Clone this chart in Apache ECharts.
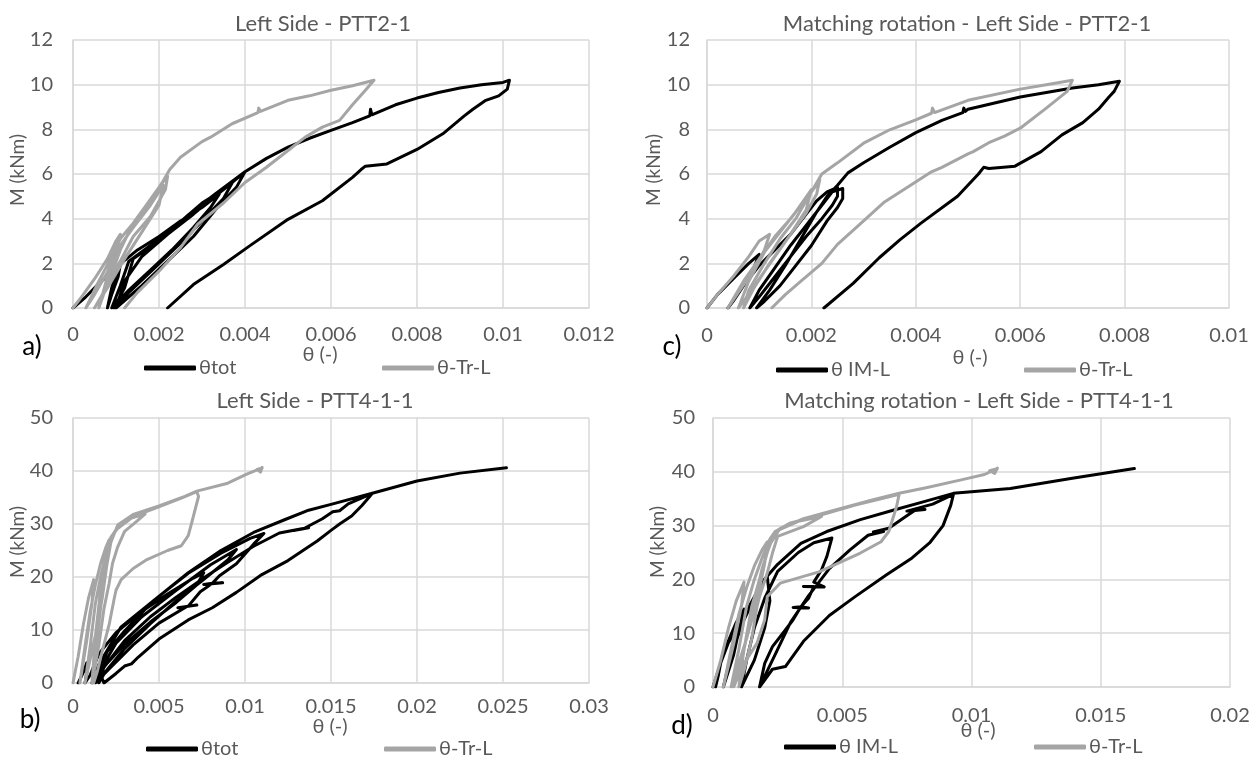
<!DOCTYPE html>
<html><head><meta charset="utf-8">
<script src="https://cdn.jsdelivr.net/npm/echarts@6/dist/echarts.min.js"></script>
<style>html,body{margin:0;padding:0;background:#fff}#c{width:1260px;height:758px}</style>
</head><body><div id="c"></div>
<script>
// ---------- tick labels ----------
const xTicksA = [0, 0.002, 0.004, 0.006, 0.008, 0.01, 0.012];
const xTicksC = [0, 0.002, 0.004, 0.006, 0.008, 0.01];
const xTicksB = [0, 0.005, 0.01, 0.015, 0.02, 0.025, 0.03];
const xTicksD = [0, 0.005, 0.01, 0.015, 0.02];
const yTicksTop = [0, 2, 4, 6, 8, 10, 12];
const yTicksBottom = [0, 10, 20, 30, 40, 50];

const titles = ['Left Side - PTT2-1', 'Matching rotation - Left Side - PTT2-1', 'Left Side - PTT4-1-1', 'Matching rotation - Left Side - PTT4-1-1'];
const panelLetters = ['a)', 'c)', 'b)', 'd)'];
const xName = 'θ (-)';
const yName = 'M (kNm)';

// ---------- series values [θ, M] ----------
// a) Left Side - PTT2-1
const thetaTotA = [
[0,0],[0.0003,0.5],[0.0006,1.1],[0.0009,1.6],[0.0011,1.95],[0.00105,1.4],[0.0009,0.6],[0.0008,0],
[0.0009,0.9],[0.00105,1.9],[0.0015,2.6],[0.002,3.2],[0.0025,3.9],[0.003,4.5],[0.0034,5.1],
[0.0032,4.5],[0.0028,3.6],[0.0023,2.6],[0.0018,1.7],[0.0013,0.8],[0.0009,0],
[0.0011,1.0],[0.0013,2.1],[0.0018,2.8],[0.0024,3.7],[0.003,4.7],[0.0035,5.3],[0.004,6.1],
[0.0038,5.4],[0.0034,4.6],[0.0028,3.2],[0.0022,2.1],[0.0016,1.0],[0.001,0],
[0.0012,1.2],[0.0016,2.3],[0.0022,3.3],[0.0028,4.2],[0.0033,5.0],[0.0037,5.6],
[0.0035,4.9],[0.003,3.9],[0.0025,2.9],[0.0019,1.8],[0.0013,0.7],[0.00095,0],
[0.0012,0.9],[0.0014,2.2],[0.002,3.0],[0.0027,4.2],[0.0033,5.1],[0.004,6.1],[0.0045,6.7],[0.005,7.2],[0.0055,7.6],[0.006,7.95],[0.0065,8.3],[0.0069,8.6],[0.00692,8.9],[0.00695,8.65],[0.0075,9.1],[0.008,9.4],[0.0085,9.65],[0.009,9.85],[0.0095,10.0],[0.01,10.1],[0.01015,10.2],
[0.0101,9.8],[0.0099,9.5],[0.0096,9.3],[0.0093,8.9],[0.0091,8.6],[0.0086,7.8],[0.008,7.1],[0.0073,6.45],[0.0068,6.35],[0.0067,6.2],[0.0065,5.85],[0.0058,4.8],[0.005,3.97],[0.0041,2.77],[0.0035,1.95],[0.0028,1.05],[0.0022,0]
];
const thetaTrA = [
[0,0],[0.0002,0.5],[0.0005,1.3],[0.0008,2.2],[0.001,3.0],[0.0011,3.3],[0.001,2.6],[0.0008,1.6],[0.0005,0.6],[0.0003,0],
[0.0006,1.2],[0.0009,2.3],[0.0011,3.1],[0.0014,3.8],[0.0017,4.6],[0.002,5.4],[0.0022,5.9],
[0.00215,5.3],[0.0018,4.1],[0.0014,3.2],[0.0011,2.1],[0.0008,1.1],[0.0006,0],
[0.0008,1.4],[0.0011,2.8],[0.0014,3.6],[0.0018,4.6],[0.0021,5.5],[0.002,4.6],[0.0016,3.4],[0.0012,2.2],[0.0008,0.9],[0.0005,0],
[0.0008,1.0],[0.0011,2.6],[0.0013,3.4],[0.0016,4.2],[0.0019,5.1],[0.0021,5.7],[0.00225,6.2],[0.0025,6.75],[0.003,7.45],[0.0032,7.65],[0.0037,8.25],[0.0043,8.75],[0.00432,8.95],[0.00436,8.8],[0.005,9.3],[0.0055,9.5],[0.006,9.75],[0.0065,9.95],[0.007,10.2],
[0.0068,9.75],[0.0065,9.1],[0.0062,8.4],[0.0058,8.1],[0.0054,7.65],[0.005,7.05],[0.0045,6.3],[0.004,5.62],[0.0035,4.7],[0.0029,3.75],[0.0025,2.7],[0.002,1.65],[0.0015,0.7],[0.0012,0]
];
// c) Matching rotation - PTT2-1
const thetaImC = [
[0,0],[0.0002,0.6],[0.0005,1.3],[0.0008,2.0],[0.001,2.4],[0.0009,1.8],[0.0007,1.0],[0.0005,0.3],[0.0004,0],
[0.0007,1.0],[0.001,1.9],[0.0013,2.6],[0.0016,3.3],[0.0019,4.2],[0.0021,4.8],[0.0023,5.2],[0.0025,5.4],
[0.0025,5.0],[0.0024,4.6],[0.0022,4.0],[0.0019,3.2],[0.0016,2.3],[0.0013,1.4],[0.001,0.5],[0.00082,0],
[0.001,0.8],[0.0013,1.8],[0.0016,2.8],[0.0019,3.7],[0.0022,4.6],[0.0024,5.2],[0.0026,5.35],
[0.0026,4.9],[0.0025,4.5],[0.0023,3.9],[0.002,2.8],[0.0017,1.9],[0.0014,1.0],[0.0011,0.3],[0.00095,0],
[0.0012,0.8],[0.0015,1.9],[0.0018,3.1],[0.0021,4.3],[0.0023,5.0],[0.0025,5.5],[0.0027,6.05],[0.003,6.5],[0.0035,7.2],[0.004,7.85],[0.0045,8.4],[0.0049,8.75],[0.00492,8.95],[0.00495,8.8],[0.005,8.9],[0.006,9.45],[0.007,9.85],[0.0075,10.0],[0.0079,10.15],
[0.0078,9.7],[0.0077,9.45],[0.0075,8.9],[0.0072,8.3],[0.0068,7.75],[0.0064,7.0],[0.0059,6.35],[0.0054,6.25],[0.0053,6.3],[0.0052,6.0],[0.0048,5.0],[0.0041,3.8],[0.0037,3.06],[0.0033,2.25],[0.0028,1.1],[0.00224,0]
];
const thetaTrC = [
[0,0],[0.0002,0.6],[0.0005,1.4],[0.0008,2.3],[0.001,3.0],[0.0012,3.3],[0.0011,2.6],[0.0009,1.7],[0.0006,0.7],[0.0004,0],
[0.0007,1.2],[0.001,2.2],[0.0013,3.2],[0.0016,4.0],[0.0019,4.9],[0.0021,5.5],[0.00216,5.75],
[0.0021,5.1],[0.0019,4.25],[0.0016,3.3],[0.0013,2.3],[0.001,1.3],[0.0007,0.3],[0.0006,0],
[0.0008,1.2],[0.0011,2.5],[0.0014,3.4],[0.0017,4.3],[0.002,5.3],[0.0019,4.4],[0.0016,3.3],[0.0012,2.0],[0.0009,0.9],[0.0007,0],
[0.0008,0.8],[0.0011,2.0],[0.0014,3.1],[0.0017,4.0],[0.002,5.2],[0.0022,6.0],[0.0025,6.5],[0.003,7.38],[0.0035,7.98],[0.004,8.42],[0.0043,8.72],[0.00432,8.95],[0.00436,8.75],[0.005,9.3],[0.006,9.8],[0.0065,10.0],[0.007,10.2],
[0.0069,9.7],[0.0065,8.95],[0.006,8.05],[0.0057,7.7],[0.0054,7.4],[0.0051,7.0],[0.005,6.9],[0.0045,6.3],[0.0043,6.1],[0.0039,5.5],[0.0034,4.75],[0.003,3.9],[0.0025,2.85],[0.0022,2.0],[0.0018,1.2],[0.0015,0.6],[0.00124,0]
];
// b) Left Side - PTT4-1-1
const thetaTotB = [
[0.0003,0],[0.0006,2],[0.0008,3.8],[0.0008,2],[0.0007,0],
[0.001,1.5],[0.0015,5.5],[0.0025,9.5],[0.004,13.5],[0.0055,16.8],[0.007,19.8],[0.0076,20.8],
[0.0072,18.5],[0.006,15.2],[0.0045,11.5],[0.003,7.3],[0.002,3.8],[0.0011,0],
[0.0015,3.5],[0.0028,10.6],[0.0047,15.6],[0.0067,20.7],[0.0086,24.5],[0.0103,27.3],[0.0111,28.2],
[0.0105,26.2],[0.0095,22.5],[0.0085,20.2],[0.0081,18.8],[0.0087,18.9],[0.0076,18.6],[0.0081,18.8],[0.0074,17.2],[0.0067,14.5],[0.0072,14.7],[0.0061,14.2],[0.0066,14.4],[0.005,11.3],[0.0035,7.2],[0.0022,3],[0.0013,0],
[0.0016,2.5],[0.0025,7.5],[0.004,12.5],[0.006,17.5],[0.008,22.3],[0.0095,25.2],
[0.009,23.2],[0.0075,19.3],[0.006,15.5],[0.0045,11.2],[0.003,6.5],[0.0019,2.2],[0.0015,0],
[0.0018,3],[0.003,8],[0.0045,12.5],[0.006,16.2],[0.0075,19.6],[0.009,22.8],[0.0105,25.8],[0.012,28.3],[0.0133,29.1],[0.0137,29.3],[0.0129,28.8],[0.0134,29.1],[0.0145,31],[0.0151,32.3],[0.0155,32.5],[0.016,33.8],[0.0174,35.8],
[0.0172,35],[0.0168,33.5],[0.0162,31.5],[0.0155,30],[0.015,28.8],[0.0142,26.8],[0.0135,25.3],[0.0125,23.1],[0.0109,20.3],[0.0095,17.1],[0.0081,14.2],[0.0067,11.9],[0.005,8.3],[0.0038,4.9],[0.0034,3.6],[0.003,3.2],[0.0025,1.8],[0.0018,0],
[0.0015,2.5],[0.002,6],[0.003,9.8],[0.0047,15.6],[0.0067,20.8],[0.0086,25],[0.0105,28.4],[0.0123,30.8],[0.0137,32.6],[0.015,33.7],[0.0174,35.8],[0.02,38.1],[0.0225,39.6],[0.0252,40.6]
];
const thetaTrB = [
[0,0],[0.0003,5],[0.0006,11],[0.0009,16],[0.0012,19.5],[0.0011,15],[0.0008,8],[0.0005,2],[0.0004,0],
[0.0007,7],[0.001,13.5],[0.0013,18.5],[0.0016,22.5],[0.0019,25.5],[0.0021,27],[0.002,23],[0.0017,16],[0.0013,9],[0.0009,3],[0.0007,0],
[0.001,7],[0.0013,15],[0.0016,20],[0.0019,24],[0.0022,27.5],[0.0025,28.9],[0.0034,31.1],[0.0042,31.9],
[0.0037,30.5],[0.003,28.6],[0.0026,25.7],[0.0023,22.6],[0.0021,18.8],[0.0018,14],[0.0015,7],[0.0011,0],
[0.0013,8.7],[0.0016,17.5],[0.0019,23.2],[0.0023,27.9],[0.0027,29.6],[0.0034,31.3],[0.0048,33],[0.0063,34.9],[0.0072,36.1],
[0.0073,35.2],[0.0071,32.7],[0.0069,30.2],[0.0067,27.8],[0.0063,25.9],[0.0055,25],[0.0043,23.3],[0.0035,21.6],[0.0028,19.5],[0.0025,17.5],[0.0024,16],[0.0021,11],[0.0017,6],[0.0014,2],[0.0012,0],
[0.0013,6],[0.0016,14],[0.0019,21],[0.0022,26.5],[0.0026,29.8],[0.0035,31.8],[0.005,33.4],[0.0065,35.2],[0.0072,36.2],[0.009,37.7],[0.0101,39.4],[0.011,40.6],[0.0107,40.3],[0.0109,39.8],[0.011,40.7]
];
// d) Matching rotation - PTT4-1-1
const thetaImD = [
[0,0],[0.0002,3],[0.0005,7.5],[0.0009,12],[0.0012,14.5],[0.001,10.5],[0.0008,6],[0.0005,1.5],[0.0004,0],
[0.0006,4],[0.001,10],[0.0014,15],[0.0018,18.5],[0.0021,20.5],[0.0022,16],[0.002,11],[0.0016,5],[0.0011,0],
[0.0013,5],[0.0016,11],[0.002,16.5],[0.0025,21.5],[0.0033,25],[0.0039,26.8],[0.0046,27.7],
[0.0044,24.2],[0.0042,21.8],[0.0039,19.5],[0.0043,18.6],[0.0035,18.7],[0.0039,18.7],[0.0037,16.5],[0.0034,14.9],[0.0037,14.7],[0.0031,14.8],[0.0034,14.9],[0.0031,12.5],[0.0028,10.6],[0.0023,7.5],[0.002,4.4],[0.0018,0],
[0.0021,3],[0.0025,7],[0.003,12],[0.0037,17],[0.0045,22],[0.0053,25.5],[0.006,28.2],[0.0066,28.9],[0.0062,28.8],[0.0068,29.5],[0.0074,31.5],[0.0078,32.8],[0.0082,33],[0.0075,32.7],[0.0085,34],[0.0093,35.8],
[0.0092,33.8],[0.0089,30],[0.0084,26.9],[0.0077,24],[0.0067,20.8],[0.0055,16.8],[0.0045,13.3],[0.0035,8.5],[0.0028,3.8],[0.0023,3.3],[0.0018,0],
'-',
[0.0001,0],[0.0002,2],[0.0003,4.5],[0.0006,8.3],[0.0012,12.5],[0.0015,15.5],[0.0019,19.5],[0.0025,22.8],[0.0034,26.7],[0.0044,28.9],[0.0057,31.1],[0.007,32.9],[0.0082,34.5],[0.0093,36],[0.0115,36.9],[0.0139,38.8],[0.0163,40.6]
];
const thetaTrD = [
[0,0],[0.0003,5],[0.0006,11],[0.0009,16],[0.0012,19.5],[0.0011,15],[0.0008,8],[0.0005,2],[0.0004,0],
[0.0007,7],[0.001,13.5],[0.0013,18.5],[0.0016,22.5],[0.0019,25.5],[0.0021,27],[0.002,23],[0.0017,16],[0.0013,9],[0.0009,3],[0.0007,0],
[0.001,7],[0.0013,15],[0.0016,20],[0.0019,24],[0.0022,27.5],[0.0024,28.9],[0.0033,30.8],[0.0042,31.7],
[0.0035,29.8],[0.0025,28],[0.0023,24.9],[0.0021,21.2],[0.0018,16.8],[0.0017,14.9],[0.0015,9],[0.0012,3],[0.001,0],
[0.0012,7],[0.0015,15],[0.0018,20],[0.0021,25],[0.0024,28.9],[0.003,30.5],[0.0042,32],[0.0055,33.8],[0.0065,35],[0.0072,35.8],
[0.0071,33.5],[0.0068,28.9],[0.0065,27],[0.0057,24.9],[0.0047,22.7],[0.0041,21.4],[0.0026,19.3],[0.0021,16.8],[0.002,12.5],[0.0017,8.1],[0.0012,4.4],[0.0008,0],
[0.0012,7],[0.0016,16],[0.0019,22],[0.0022,26.5],[0.0026,29.5],[0.0035,31.3],[0.0048,33],[0.0062,34.8],[0.0072,36],[0.0082,37],[0.0096,38.5],[0.0105,39.5],[0.011,40.6],[0.0107,40.2],[0.0109,39.7],[0.011,40.7]
];

// ---------- styling / layout ----------
const FONT = "Lato, 'Open Sans', 'DejaVu Sans', sans-serif";
const TXT = '#595959';
const GRID = '#D9D9D9';
const BLACK = '#000000';
const GREY = '#A5A5A5';

const panels = [
  {grid:{left:73, top:40, width:516, height:268}, xt:xTicksA, yt:yTicksTop, xm:17, ym:20,
   title:{x:323, y:13}, letter:[32,347], xn:[320,355], yn:[18,170],
   s:[{name:'θtot', data:thetaTotA, c:BLACK},{name:'θ-Tr-L', data:thetaTrA, c:GREY}], lg:[[144,368],[382,368]]},
  {grid:{left:707, top:40, width:522, height:268}, xt:xTicksC, yt:yTicksTop, xm:18, ym:17,
   title:{x:967, y:13}, letter:[672,347], xn:[970,358], yn:[654,170],
   s:[{name:'θ IM-L', data:thetaImC, c:BLACK},{name:'θ-Tr-L', data:thetaTrC, c:GREY}], lg:[[776,370],[1024,370]]},
  {grid:{left:73, top:418, width:516, height:265}, xt:xTicksB, yt:yTicksBottom, xm:14, ym:20,
   title:{x:315, y:390}, letter:[30,720], xn:[330,727], yn:[18,542],
   s:[{name:'θtot', data:thetaTotB, c:BLACK},{name:'θ-Tr-L', data:thetaTrB, c:GREY}], lg:[[146,749],[384,749]]},
  {grid:{left:713, top:418, width:517, height:269}, xt:xTicksD, yt:yTicksBottom, xm:19, ym:18,
   title:{x:979, y:390}, letter:[682,726], xn:[978,731], yn:[658,542],
   s:[{name:'θ IM-L', data:thetaImD, c:BLACK},{name:'θ-Tr-L', data:thetaTrD, c:GREY}], lg:[[784,747],[1034,747]]}
];

const fmt = v => String(parseFloat(Number(v).toPrecision(6)));

const option = {
  animation: false,
  backgroundColor: '#ffffff',
  title: [], grid: [], xAxis: [], yAxis: [], series: [], legend: [], graphic: []
};

panels.forEach((p, i) => {
  option.grid.push(Object.assign({containLabel:false}, p.grid));
  option.title.push({text: titles[i], left: p.title.x, top: p.title.y, textAlign: 'center', padding: 0,
    textStyle:{color: TXT, fontFamily: FONT, fontSize: 22, fontWeight: 'normal'}});
  option.xAxis.push({gridIndex:i, type:'value', min:p.xt[0], max:p.xt[p.xt.length-1], interval:p.xt[1]-p.xt[0],
    axisLine:{show:true, onZero:false, lineStyle:{color:GRID, width:1.5}}, axisTick:{show:false},
    splitLine:{show:true, lineStyle:{color:GRID, width:1.5}},
    axisLabel:{color:TXT, fontFamily:FONT, fontSize:20, margin:p.xm, formatter:fmt}});
  option.yAxis.push({gridIndex:i, type:'value', min:p.yt[0], max:p.yt[p.yt.length-1], interval:p.yt[1]-p.yt[0],
    axisLine:{show:true, onZero:false, lineStyle:{color:GRID, width:1.5}}, axisTick:{show:false},
    splitLine:{show:true, lineStyle:{color:GRID, width:1.5}},
    axisLabel:{color:TXT, fontFamily:FONT, fontSize:20, margin:p.ym, formatter:fmt}});
  p.s.forEach((s, k) => {
    option.series.push({type:'line', name:s.name, xAxisIndex:i, yAxisIndex:i, data:s.data,
      showSymbol:false, symbol:'none', silent:true, connectNulls:false, z: 2 + k,
      lineStyle:{color:s.c, width:3, join:'round', cap:'round'}, itemStyle:{color:s.c},
      emphasis:{disabled:true}});
    option.legend.push({data:[s.name], left:p.lg[k][0], top:p.lg[k][1]-10, padding:0, itemGap:0,
      icon:'roundRect', itemWidth:52, itemHeight:5, selectedMode:false,
      textStyle:{color:TXT, fontFamily:FONT, fontSize:20, lineHeight:20, padding:[0,0,0,-2]}});
  });
  option.graphic.push({type:'text', x:p.xn[0], y:p.xn[1], silent:true,
    style:{text:xName, fontSize:20, fontFamily:FONT, fill:TXT, align:'center', verticalAlign:'middle'}});
  option.graphic.push({type:'text', x:p.yn[0], y:p.yn[1], rotation:Math.PI/2, silent:true,
    style:{text:yName, fontSize:19, fontFamily:FONT, fill:TXT, align:'center', verticalAlign:'middle'}});
  option.graphic.push({type:'text', x:p.letter[0], y:p.letter[1], silent:true,
    style:{text:panelLetters[i], fontSize:26, fontFamily:FONT, fill:'#000', align:'center', verticalAlign:'middle'}});
});

const chart = echarts.init(document.getElementById('c'), null, {renderer:'canvas', width:1260, height:758});
chart.setOption(option);
</script>
</body></html>
